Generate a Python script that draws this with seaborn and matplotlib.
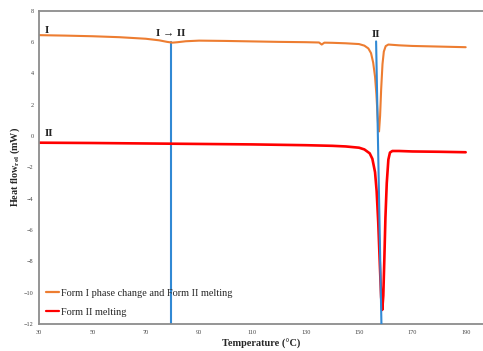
import numpy as np
import pandas as pd
import matplotlib
matplotlib.use("Agg")
import matplotlib.pyplot as plt
import seaborn as sns


# DATA

temp_form1 = [30, 40, 50, 60, 70, 75, 78, 80, 82, 85, 90, 100, 110, 120, 130,
              135, 136, 137, 140, 145, 150, 152, 153.5, 154.5, 155.3, 156, 156.5,
              156.9, 157.2, 157.5, 157.9, 158.3, 158.8, 159.3, 160, 161, 165,
              170, 180, 190]
flow_form1 = [6.45, 6.42, 6.38, 6.32, 6.22, 6.12, 6.02, 5.97, 6.0, 6.06, 6.1,
              6.08, 6.05, 6.02, 6.0, 5.98, 5.85, 5.97, 5.96, 5.93, 5.88, 5.78,
              5.6, 5.3, 4.7, 3.8, 2.7, 1.5, 0.6, 0.3, 1.3, 3.0, 4.6, 5.4,
              5.75, 5.85, 5.8, 5.76, 5.72, 5.68]

temp_form2 = [30, 50, 70, 90, 110, 130, 140, 145, 150, 152, 154, 155, 156,
              156.6, 157.2, 157.8, 158.3, 158.7, 159.1, 159.5, 159.9, 160.4,
              161, 161.6, 162.5, 165, 170, 180, 190]
flow_form2 = [-0.42, -0.44, -0.47, -0.5, -0.53, -0.58, -0.62, -0.66, -0.74,
              -0.85, -1.1, -1.45, -2.3, -3.5, -5.5, -8.2, -10.3, -11.1, -10.2,
              -7.8, -5.2, -3.0, -1.5, -1.05, -0.95, -0.95, -0.98, -1.0, -1.03]

transition_x = [79.5, 79.5]
transition_y = [-12, 6.0]
melt_x = [156.4, 158.4]
melt_y = [6.05, -12]

labels = ["Form I phase change and Form II melting", "Form II melting"]

df = pd.concat([
    pd.DataFrame({"T": temp_form1, "HF": flow_form1, "Sample": labels[0]}),
    pd.DataFrame({"T": temp_form2, "HF": flow_form2, "Sample": labels[1]}),
])


# PLOT

sns.set_style("white")
plt.rcParams["font.family"] = ["Liberation Serif", "DejaVu Serif"]

fig = plt.figure(figsize=(4.83, 3.51), dpi=100)
ax = fig.add_axes([0.081, 0.077, 0.919, 0.892])

ax.plot(transition_x, transition_y, color="#3189d4", lw=1.5, zorder=1)
ax.plot(melt_x, melt_y, color="#3189d4", lw=1.5, zorder=3)

sns.lineplot(
    data=df, x="T", y="HF", hue="Sample", sort=False,
    palette=["#ed7d31", "#ff0000"], linewidth=1.6, ax=ax, zorder=2
)
for line, w in zip(ax.get_lines()[2:], [1.5, 1.9]):
    line.set_linewidth(w)

ax.set_xlim(30, 196.5)
ax.set_ylim(-12, 8)
ax.set_xticks(np.arange(30, 191, 20))
ax.set_yticks(np.arange(-12, 9, 2))
ax.tick_params(labelsize=4.5, colors="#444444", length=0, pad=4)

for side in ["left", "top", "bottom"]:
    ax.spines[side].set_color("#8c8c8c")
    ax.spines[side].set_linewidth(1.3)
ax.spines["right"].set_visible(False)

ax.set_xlabel("Temperature (°C)", fontsize=7.4, fontweight="bold", labelpad=3)
ax.set_ylabel("Heat flow$_{\\mathregular{rel}}$ (mW)", fontsize=7.3,
              fontweight="bold")
ax.yaxis.set_label_coords(-0.038, 0.5)

# annotations
ax.text(32, 6.6, "I", fontsize=8, fontweight="bold")
ax.text(79.5, 6.4, "I → II", fontsize=8, fontweight="bold", ha="center")
ax.text(156.4, 6.3, "II", fontsize=8, fontweight="bold", ha="center")
ax.text(32, 0.0, "II", fontsize=8, fontweight="bold")

ax.legend(loc="lower left", frameon=False, fontsize=7.4, handlelength=1.2,
          handletextpad=0.2, labelspacing=0.95, borderaxespad=0.3,
          bbox_to_anchor=(0.0, 0.0))

fig.savefig("out.png", dpi=100)
